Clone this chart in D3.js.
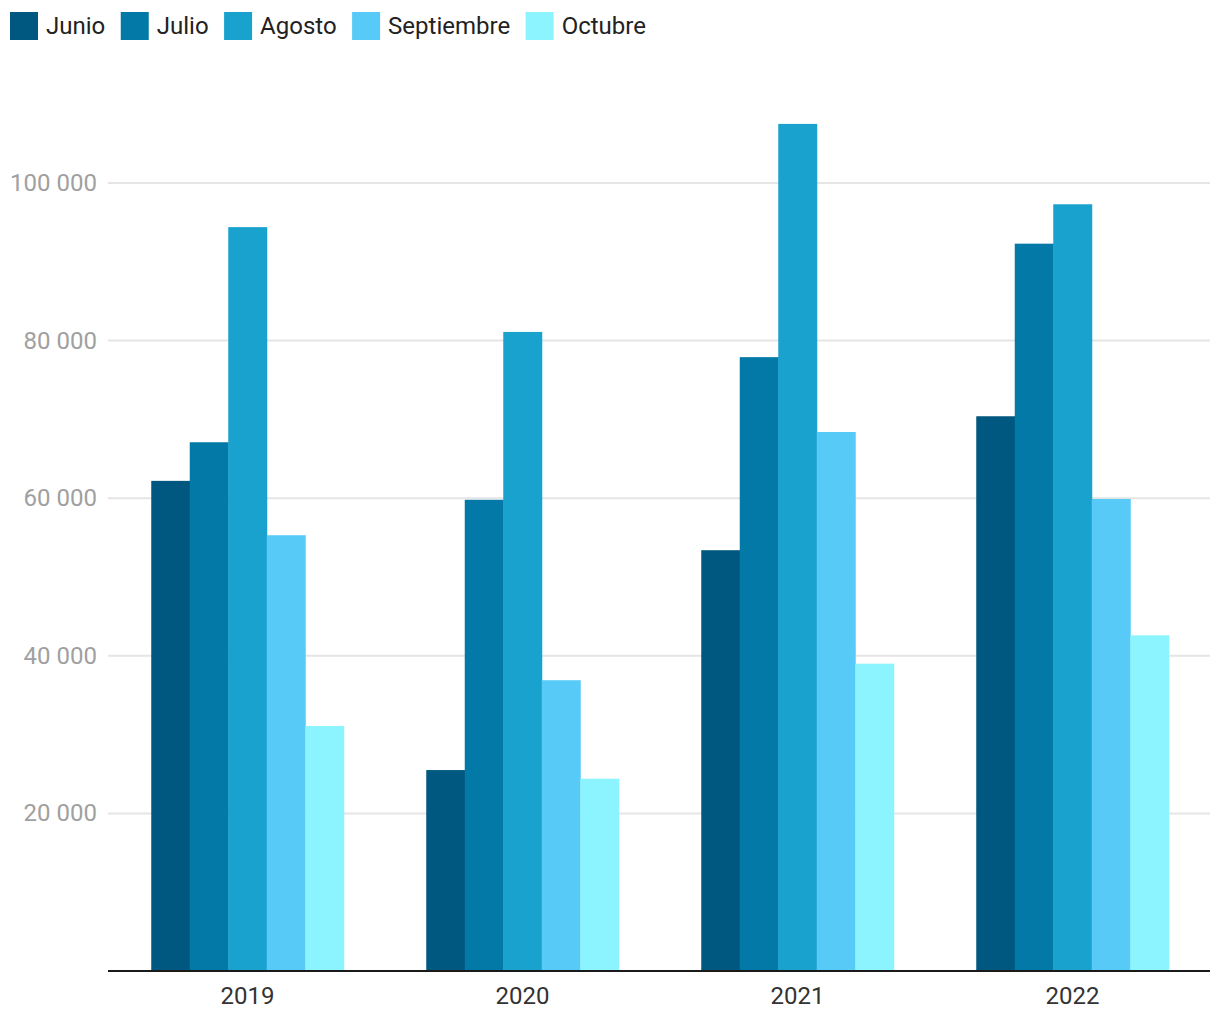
<!DOCTYPE html>
<html><head><meta charset="utf-8">
<script src="https://cdn.jsdelivr.net/npm/d3@7"></script>
<style>body{margin:0;background:#fff;font-family:Roboto,sans-serif}</style>
</head><body><svg id="c" width="1220" height="1020"></svg>
<script>
const years = ["2019","2020","2021","2022"];
const months = ["Junio","Julio","Agosto","Septiembre","Octubre"];
const colors = ["#00577f","#0279a6","#1aa2cf","#58caf7","#8bf4fe"];
const junio = [62200,25500,53400,70400];
const julio = [67100,59800,77900,92300];
const agosto = [94400,81100,107500,97300];
const septiembre = [55300,36900,68400,59900];
const octubre = [31100,24400,39000,42600];
const yTicks = [20000,40000,60000,80000,100000];
const series = [junio,julio,agosto,septiembre,octubre];

const svg = d3.select("#c");
const left=108,right=1210,base=971;
const y = d3.scaleLinear().domain([0,100000]).range([base,183]);
const x0 = d3.scaleBand().domain(years).range([110,right]).paddingInner(0.3).paddingOuter(0.15);
const x1 = d3.scaleBand().domain(months).range([0,x0.bandwidth()]);

// grid
const g = svg.append("g");
g.selectAll("line.grid").data(yTicks).join("line")
 .attr("x1",left).attr("x2",right).attr("y1",d=>y(d)).attr("y2",d=>y(d))
 .attr("stroke","#e5e5e5").attr("stroke-width",2);
g.selectAll("text.yt").data(yTicks).join("text")
 .attr("x",97).attr("y",d=>y(d)+8).attr("text-anchor","end")
 .attr("fill","#a0a0a0").attr("font-size",24).text(d=>d3.format(",")(d).replace(/,/g," "));

// bars
years.forEach((yr,i)=>{
  series.forEach((s,j)=>{
    svg.append("rect").attr("x",x0(yr)+x1(months[j])).attr("width",x1.bandwidth()+0.5)
      .attr("y",y(s[i])).attr("height",base-y(s[i])).attr("fill",colors[j]);
  });
});

// x axis
svg.append("line").attr("x1",left).attr("x2",right).attr("y1",base).attr("y2",base)
  .attr("stroke","#1a1a1a").attr("stroke-width",2);
svg.selectAll("text.xt").data(years).join("text")
 .attr("x",d=>x0(d)+x0.bandwidth()/2).attr("y",1004).attr("text-anchor","middle")
 .attr("fill","#333").attr("font-size",24).text(d=>d);

// legend
const leg = svg.append("g");
let lx = 10;
months.forEach((m,j)=>{
  leg.append("rect").attr("x",lx).attr("y",12).attr("width",28).attr("height",28).attr("fill",colors[j]);
  const t = leg.append("text").attr("x",lx+36).attr("y",34).attr("font-size",24).attr("fill","#222").text(m);
  lx += 36 + t.node().getComputedTextLength() + 15.5;
});
</script></body></html>
